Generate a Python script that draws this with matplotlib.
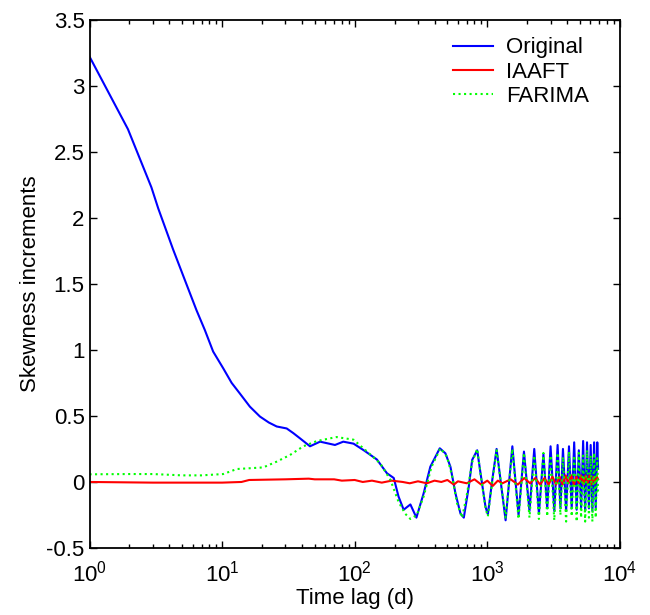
import numpy as np
import matplotlib.pyplot as plt

plt.rcParams['font.family'] = ['Liberation Sans', 'DejaVu Sans']
plt.rcParams['mathtext.fontset'] = 'custom'
plt.rcParams['mathtext.rm'] = 'Liberation Sans'

# Original (blue)
lag_orig = [1, 1.95, 2.93, 3.3, 4.27, 5.23, 6.41, 7.41, 8.56, 10.2, 11.8, 13.6, 16.2,
            19.3, 22.5, 25.8, 30.7, 34.4, 38.7, 46, 54.8, 71,
            82, 98, 117, 147, 175, 197, 214, 234, 263, 292, 331, 372, 406, 438, 483, 527,
            575, 628, 665, 725, 769, 839, 889, 970, 1010, 1090, 1175, 1374, 1545, 1720,
            1890, 2080, 2260, 2450, 2650, 2830, 3000, 3200, 3390, 3560, 3720, 3930, 4130,
            4330, 4520, 4720, 4900, 5100, 5280, 5470, 5650, 5840, 6020, 6200, 6390, 6570,
            6750, 6850]
val_orig = [3.22, 2.67, 2.23, 2.07, 1.76, 1.53, 1.30, 1.15, 0.987, 0.86, 0.75, 0.67, 0.57,
            0.495, 0.45, 0.42, 0.405, 0.37, 0.33, 0.27, 0.305, 0.28,
            0.305, 0.29, 0.24, 0.17, 0.066, 0.03, -0.11, -0.21, -0.17, -0.27, -0.086, 0.116, 0.19, 0.255, 0.217, 0.116,
            -0.086, -0.24, -0.27, -0.035, 0.167, 0.24, 0.066, -0.19, -0.245, 0.015, 0.25, -0.29, 0.27, -0.25,
            0.23, -0.22, 0.25, -0.24, 0.21, -0.2, 0.27, -0.22, 0.28, -0.2, 0.25, -0.22, 0.27,
            -0.2, 0.3, -0.21, 0.24, -0.2, 0.31, -0.22, 0.3, -0.2, 0.28, -0.22, 0.3, -0.2,
            0.3, 0.1]

# IAAFT (red)
lag_iaaft = [1, 3, 10, 14, 16, 30, 45, 50, 70, 80, 100, 115, 135, 160, 190, 230, 260, 300,
             350, 400, 450, 500, 560, 600, 700, 800, 900, 1000, 1100, 1200, 1300, 1500, 1700,
             1900, 2100, 2300, 2500, 2700, 2900, 3100, 3300, 3500, 3700, 3900, 4100, 4300,
             4500, 4700, 4900, 5100, 5300, 5500, 5700, 5900, 6100, 6300, 6500, 6700, 6850]
val_iaaft = [0.0, -0.005, -0.005, 0.0, 0.015, 0.02, 0.025, 0.02, 0.02, 0.01, 0.015, 0.0, 0.01, -0.005, 0.01, 0.0, -0.01, 0.005,
             -0.01, 0.01, 0.0, 0.015, -0.02, 0.005, -0.01, 0.02, -0.02, 0.01, -0.03, 0.01, -0.01, 0.02, -0.02,
             0.03, -0.01, 0.03, -0.02, 0.03, -0.02, 0.04, -0.02, 0.04, -0.02, 0.05, -0.01, 0.05,
             -0.02, 0.04, -0.01, 0.05, -0.02, 0.05, -0.01, 0.05, -0.02, 0.04, -0.01, 0.04, 0.02]

# FARIMA (green dotted)
lag_farima = [1, 2, 3, 5, 7, 10.2, 12.9, 20.4, 25.8, 32.5, 41, 51.9, 73, 98, 124, 156, 186,
              214, 240, 263, 294, 331, 380, 443, 497, 544, 591, 646, 700, 769, 839, 889, 970,
              1010, 1090, 1175, 1374, 1545, 1720, 1890, 2080, 2260, 2450, 2650, 2830, 3000,
              3200, 3390, 3560, 3720, 3930, 4130, 4330, 4520, 4720, 4900, 5100, 5280, 5470,
              5650, 5840, 6020, 6200, 6390, 6570, 6750, 6850]
val_farima = [0.058, 0.06, 0.06, 0.05, 0.05, 0.06, 0.098, 0.11, 0.154, 0.204, 0.27, 0.31, 0.34, 0.32, 0.23, 0.14, 0.015,
              -0.15, -0.24, -0.28, -0.25, -0.11, 0.116, 0.255, 0.19, 0.04, -0.16, -0.27, -0.1, 0.15, 0.25, 0.06, -0.2,
              -0.26, 0.0, 0.24, -0.27, 0.25, -0.28, 0.22, -0.27, 0.2, -0.28, 0.22, -0.26, 0.2,
              -0.29, 0.22, -0.25, 0.19, -0.3, 0.23, -0.26, 0.2, -0.3, 0.22, -0.27, 0.2, -0.3,
              0.24, -0.27, 0.2, -0.3, 0.22, -0.27, 0.18, -0.1]

fig = plt.figure(figsize=(6.5, 6.15), dpi=100)
ax = fig.add_axes([0.1377, 0.1089, 0.816, 0.8593])

ax.plot(lag_orig, val_orig, color=(0, 0, 1), lw=1.5, label='Original')
ax.plot(lag_iaaft, val_iaaft, color=(1, 0, 0), lw=1.5, label='IAAFT')
ax.plot(lag_farima, val_farima, color=(0, 1, 0), lw=1.5, ls=':', label='FARIMA')

ax.set_xscale('log')
ax.set_xlim(1, 1e4)
ax.set_ylim(-0.5, 3.5)
ax.set_yticks(np.arange(-0.5, 3.51, 0.5))
ax.set_yticklabels(['%g' % v for v in np.arange(-0.5, 3.51, 0.5)])

ax.tick_params(which='both', direction='in', top=True, right=True, labelsize=16, width=1)
ax.tick_params(which='major', length=5)
ax.tick_params(which='minor', length=3)
ax.tick_params(axis='x', which='major', pad=9)
for s in ax.spines.values():
    s.set_linewidth(1.3)

ax.set_xlabel('Time lag (d)', fontsize=16, labelpad=1)
ax.set_ylabel('Skewness increments', fontsize=16)

ax.legend(loc='upper right', bbox_to_anchor=(0.976, 1.0), frameon=False, fontsize=16,
          handlelength=1.8, handletextpad=0.6, labelspacing=0.15, borderaxespad=0.4)

fig.savefig('out.png', dpi=100)
